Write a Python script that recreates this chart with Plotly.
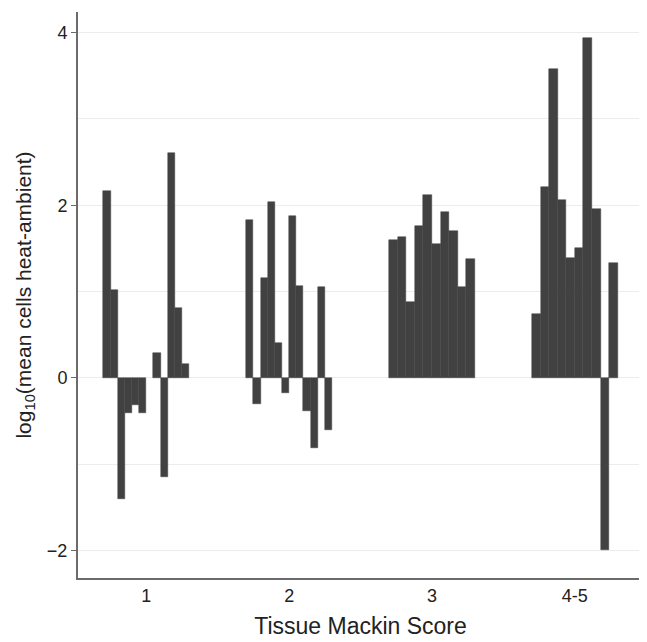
import plotly.graph_objects as go

# Data
groups = ["1", "2", "3", "4-5"]
score_1 = [2.17, 1.02, -1.41, -0.41, -0.31, -0.41, None, 0.29, -1.15, 2.61, 0.81, 0.16]
score_2 = [1.83, -0.30, 1.16, 2.04, 0.40, -0.17, 1.87, 1.07, -0.39, -0.81, 1.05, -0.60]
score_3 = [1.60, 1.63, 0.88, 1.76, 2.12, 1.55, 1.92, 1.70, 1.05, 1.38]
score_45 = [0.74, 2.21, 3.58, 2.06, 1.39, 1.51, 3.94, 1.96, -2.00, 1.33]
y_tickvals = [-2, 0, 2, 4]
y_ticktext = ["\u22122", "0", "2", "4"]

series = [score_1, score_2, score_3, score_45]
group_width = 0.6

xs, ys, ws = [], [], []
for gi, vals in enumerate(series):
    center = gi + 1
    n = len(vals)
    w = group_width / n
    for i, v in enumerate(vals):
        xs.append(center - group_width / 2 + (i + 0.5) * w)
        ys.append(v)
        ws.append(w)

fig = go.Figure(
    go.Bar(
        x=xs, y=ys, width=ws,
        marker=dict(color="#414141", line=dict(width=0.5, color="#414141")),
        hoverinfo="y",
    )
)

font_family = "Liberation Sans, Arial, Helvetica, sans-serif"
fig.update_layout(
    width=639, height=634,
    margin=dict(l=70, r=4, t=4, b=64),
    paper_bgcolor="white", plot_bgcolor="white",
    showlegend=False,
    bargap=0,
    font=dict(family=font_family, color="#222222", size=18),
    xaxis=dict(
        range=[0.522, 4.477],
        automargin=False,
        tickvals=[1, 2, 3, 4], ticktext=groups,
        showgrid=False, zeroline=False,
        showline=True, linecolor="#6b6b6b", linewidth=2,
        ticks="", tickfont=dict(size=18, color="#222222"),
        title=dict(text="Tissue Mackin Score", font=dict(size=23, color="#222222"), standoff=13),
    ),
    yaxis=dict(
        range=[-2.32, 4.24],
        automargin=False,
        tickvals=y_tickvals, ticktext=y_ticktext,
        showgrid=True, gridcolor="#ececec", gridwidth=1,
        zeroline=True, zerolinecolor="#ececec", zerolinewidth=1,
        showline=True, linecolor="#6b6b6b", linewidth=2,
        ticks="outside", ticklen=5, tickcolor="#6b6b6b", tickwidth=1,
        tickfont=dict(size=18, color="#222222"),
        minor=dict(dtick=1, tick0=0, showgrid=True, gridcolor="#ececec", gridwidth=1, ticks=""),
        title=dict(text="log<sub>10</sub>(mean cells heat-ambient)", font=dict(size=21, color="#222222"), standoff=10),
    ),
)

fig.write_html("out.html")
